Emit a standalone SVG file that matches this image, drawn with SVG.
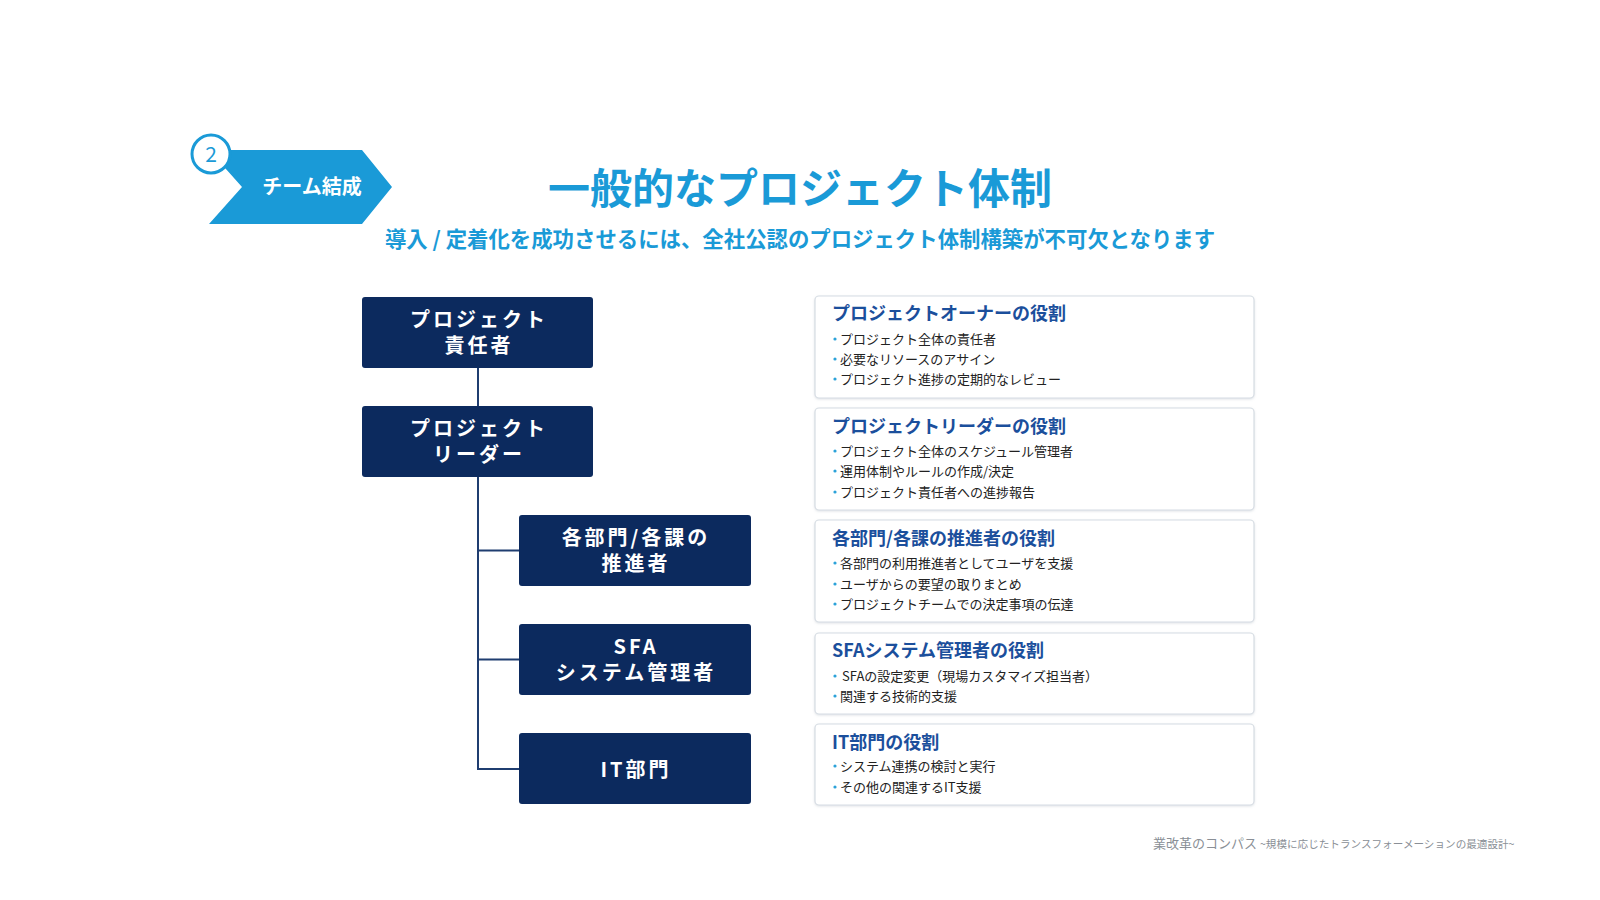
<svg xmlns="http://www.w3.org/2000/svg" width="1600" height="900" viewBox="0 0 1600 900">
<style>
text{font-family:"Noto Sans CJK JP","Noto Sans",sans-serif}
.box{fill:#0c2a5e;}
.bt{fill:#ffffff;font-size:20px;font-weight:700;letter-spacing:3px;text-anchor:middle}
.card{fill:#ffffff;stroke:#d6dce3;stroke-width:1.2}
.ct{fill:#1b4f9c;font-size:18px;font-weight:700}
.bl{fill:#222222;font-size:13px}
.dot{fill:#2ba2d9}
.conn{stroke:#1f3d70;stroke-width:2;fill:none}
</style>
<defs>
<filter id="sh" x="-5%" y="-10%" width="110%" height="125%">
<feDropShadow dx="0" dy="1" stdDeviation="1" flood-color="#9aa5b2" flood-opacity="0.3"/>
</filter>
</defs>
<rect width="1600" height="900" fill="#ffffff"/>

<g id="badge">
<polygon points="209,150 362,150 392,187 362,224 209,224 242,187" fill="#1a9ad7"/>
<circle cx="211" cy="154" r="19" fill="#ffffff" stroke="#1a9ad7" stroke-width="3"/>
<text x="211" y="162" font-size="21" fill="#1a9ad7" text-anchor="middle">2</text>
<text x="312" y="194" font-size="20" font-weight="700" fill="#ffffff" text-anchor="middle">チーム結成</text>
</g>

<g id="title">
<text x="800" y="204" font-size="42" font-weight="700" fill="#1a9ad7" text-anchor="middle">一般的なプロジェクト体制</text>
<text x="800" y="247" font-size="21.4" font-weight="700" fill="#1a9ad7" text-anchor="middle">導入 / 定着化を成功させるには、全社公認のプロジェクト体制構築が不可欠となります</text>
</g>

<g id="connectors">
<line class="conn" x1="478" y1="368" x2="478" y2="406"/>
<polyline class="conn" points="478,477 478,769 519,769"/>
<line class="conn" x1="478" y1="550.5" x2="519" y2="550.5"/>
<line class="conn" x1="478" y1="659.5" x2="519" y2="659.5"/>
</g>

<g id="node-owner">
<rect class="box" x="362" y="297" width="231" height="71" rx="3"/>
<text class="bt" x="479" y="327">プロジェクト</text>
<text class="bt" x="479" y="353">責任者</text>
</g>
<g id="node-leader">
<rect class="box" x="362" y="406" width="231" height="71" rx="3"/>
<text class="bt" x="479" y="436">プロジェクト</text>
<text class="bt" x="479" y="462">リーダー</text>
</g>
<g id="node-promoter">
<rect class="box" x="519" y="515" width="232" height="71" rx="3"/>
<text class="bt" x="636" y="545">各部門/各課の</text>
<text class="bt" x="636" y="571">推進者</text>
</g>
<g id="node-sfa">
<rect class="box" x="519" y="624" width="232" height="71" rx="3"/>
<text class="bt" x="636" y="654">SFA</text>
<text class="bt" x="636" y="680">システム管理者</text>
</g>
<g id="node-it">
<rect class="box" x="519" y="733" width="232" height="71" rx="3"/>
<text class="bt" x="636" y="777">IT部門</text>
</g>

<g id="card-owner">
<rect class="card" filter="url(#sh)" x="815" y="296" width="439" height="102" rx="4"/>
<text class="ct" x="832" y="320">プロジェクトオーナーの役割</text>
<circle class="dot" cx="835" cy="339" r="1.6"/><text class="bl" x="840" y="344">プロジェクト全体の責任者</text>
<circle class="dot" cx="835" cy="359" r="1.6"/><text class="bl" x="840" y="364">必要なリソースのアサイン</text>
<circle class="dot" cx="835" cy="379" r="1.6"/><text class="bl" x="840" y="384">プロジェクト進捗の定期的なレビュー</text>
</g>
<g id="card-leader">
<rect class="card" filter="url(#sh)" x="815" y="408" width="439" height="102" rx="4"/>
<text class="ct" x="832" y="433">プロジェクトリーダーの役割</text>
<circle class="dot" cx="835" cy="451" r="1.6"/><text class="bl" x="840" y="456">プロジェクト全体のスケジュール管理者</text>
<circle class="dot" cx="835" cy="471" r="1.6"/><text class="bl" x="840" y="476">運用体制やルールの作成/決定</text>
<circle class="dot" cx="835" cy="492" r="1.6"/><text class="bl" x="840" y="497">プロジェクト責任者への進捗報告</text>
</g>
<g id="card-promoter">
<rect class="card" filter="url(#sh)" x="815" y="520" width="439" height="102" rx="4"/>
<text class="ct" x="832" y="545">各部門/各課の推進者の役割</text>
<circle class="dot" cx="835" cy="563" r="1.6"/><text class="bl" x="840" y="568">各部門の利用推進者としてユーザを支援</text>
<circle class="dot" cx="835" cy="584" r="1.6"/><text class="bl" x="840" y="589">ユーザからの要望の取りまとめ</text>
<circle class="dot" cx="835" cy="604" r="1.6"/><text class="bl" x="840" y="609">プロジェクトチームでの決定事項の伝達</text>
</g>
<g id="card-sfa">
<rect class="card" filter="url(#sh)" x="815" y="633" width="439" height="81" rx="4"/>
<text class="ct" x="832" y="657">SFAシステム管理者の役割</text>
<circle class="dot" cx="835" cy="676" r="1.6"/><text class="bl" x="842" y="681">SFAの設定変更（現場カスタマイズ担当者）</text>
<circle class="dot" cx="835" cy="696" r="1.6"/><text class="bl" x="840" y="701">関連する技術的支援</text>
</g>
<g id="card-it">
<rect class="card" filter="url(#sh)" x="815" y="724" width="439" height="81" rx="4"/>
<text class="ct" x="832" y="749">IT部門の役割</text>
<circle class="dot" cx="835" cy="766" r="1.6"/><text class="bl" x="840" y="771">システム連携の検討と実行</text>
<circle class="dot" cx="835" cy="787" r="1.6"/><text class="bl" x="840" y="792">その他の関連するIT支援</text>
</g>

<g id="footer">
<text x="1153" y="848" font-size="13" fill="#8a8f96">業改革のコンパス <tspan font-size="10.6">~規模に応じたトランスフォーメーションの最適設計~</tspan></text>
</g>
</svg>
